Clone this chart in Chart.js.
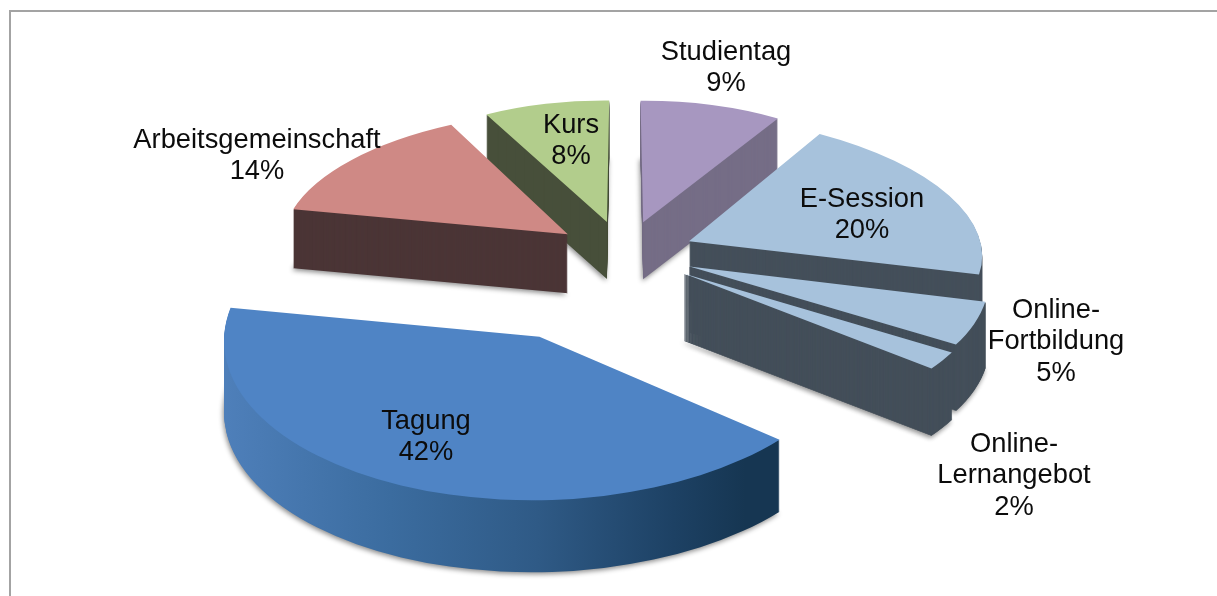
<!DOCTYPE html>
<html lang="de">
<head>
<meta charset="utf-8">
<style>html,body{margin:0;padding:0;background:#fff}canvas{display:block}</style>
<script src="https://cdn.jsdelivr.net/npm/chart.js@4"></script>
</head>
<body>
<canvas id="c" width="1217" height="596"></canvas>
<script>
// Data, clockwise from twelve o'clock
const categories = ['Studientag', 'E-Session', 'Online-\nFortbildung', 'Online-\nLernangebot', 'Tagung', 'Arbeitsgemeinschaft', 'Kurs'];
const shares = [9, 20, 5, 2, 42, 14, 8];

// Styles
const topColors = ['#a797c0', '#a7c2dc', '#a7c2dc', '#a7c2dc', '#4f84c5', '#cf8985', '#b2cd8c'];
const wallColors = ['#756d86', '#444f5a', '#444f5a', '#444f5a', null, '#4b3536', '#474f3a'];
const tagungWallStops = [[0, '#4f80bb'], [0.3, '#3b6c9f'], [0.55, '#2f5a86'], [0.78, '#1d4164'], [0.9, '#163652'], [1, '#163652']];

// Slice pull-out, as a fraction of the radius
const explode = [0.24, 0.24, 0.24, 0.25, 0.64, 0.24, 0.24];

// Camera model of the tilted pie
const view = { cx: 624, cy: 253.3, rx: 295, ry: 137, persp: 0.085, backNarrow: 0.05, depth: 63, edgeWeight: 20 };

// Label anchors (centre of the block's first line)
const labelAnchors = [[726, 52], [862, 199], [1056, 310], [1014, 444], [426, 421], [257, 140], [571, 125]];
const labelLine = 31.5;

function project(u, v) {
  const w = 1 / (1 - view.persp * v);
  const narrow = 1 + view.backNarrow * Math.min(v, 0);
  return { x: view.cx + view.rx * u * w * narrow, y: view.cy + view.ry * v * w, w };
}

// Best affine map (about the apex) of a slice onto its projected position
function sliceMatrix(start, end, e) {
  const mid = (start + end) / 2;
  const au = e * Math.cos(mid), av = e * Math.sin(mid);
  const apex = project(au, av);
  const rim = project(au + Math.cos(mid), av + Math.sin(mid));
  let suu = 0, suv = 0, svv = 0, xu = 0, xv = 0, yu = 0, yv = 0;
  const n = 24;
  for (let i = 0; i <= n; i++) {
    const t = start + (end - start) * i / n;
    const g = (i === 0 || i === n) ? view.edgeWeight : 1;
    const du = Math.cos(t), dv = Math.sin(t);
    const p = project(au + du, av + dv);
    const dx = p.x - apex.x, dy = p.y - apex.y;
    suu += g * du * du; suv += g * du * dv; svv += g * dv * dv;
    xu += g * dx * du; xv += g * dx * dv; yu += g * dy * du; yv += g * dy * dv;
  }
  const det = suu * svv - suv * suv;
  return {
    apex, rim,
    a: (xu * svv - xv * suv) / det,
    c: (xv * suu - xu * suv) / det,
    b: (yu * svv - yv * suv) / det,
    d: (yv * suu - yu * suv) / det
  };
}

const pie3d = {
  id: 'pie3d',
  beforeDatasetsDraw(chart) {
    const ctx = chart.ctx;
    const arcs = chart.getDatasetMeta(0).data;
    const items = arcs.map((el, i) => ({ el, i, m: sliceMatrix(el.startAngle, el.endAngle, explode[i]) }));
    items.sort((p, q) => p.m.apex.y - q.m.apex.y);
    items.forEach(({ el, i, m }) => {
      const r = el.outerRadius;
      const place = (dy) => {
        ctx.translate(m.apex.x, m.apex.y + dy);
        ctx.transform(m.a / r, m.b / r, m.c / r, m.d / r, 0, 0);
        ctx.translate(-el.x, -el.y);
      };
      const top = el.options.backgroundColor;
      let wall = wallColors[i];
      if (!wall) {
        wall = ctx.createLinearGradient(el.x - r * 1.02, 0, el.x + r * 0.85, 0);
        tagungWallStops.forEach(s => wall.addColorStop(s[0], s[1]));
      }
      const depth = Math.round(view.depth * m.rim.w);
      const thin = el.circumference < 0.4;
      el.options.backgroundColor = wall;
      if (thin) { el.options.borderWidth = 1; el.options.borderColor = wall; }
      for (let dy = depth; dy > 0; dy--) {
        ctx.save();
        if (dy === depth) {
          ctx.shadowColor = 'rgba(0,0,0,0.45)';
          ctx.shadowBlur = 5;
          ctx.shadowOffsetY = 2;
          ctx.shadowOffsetX = -1;
        }
        place(dy);
        el.draw(ctx);
        ctx.restore();
      }
      el.options.backgroundColor = top;
      el.options.borderWidth = 0;
      ctx.save();
      place(0);
      el.draw(ctx);
      ctx.restore();
    });
    return false;
  },
  afterDraw(chart) {
    const ctx = chart.ctx;
    // Frame of the source figure
    ctx.save();
    ctx.strokeStyle = '#a3a3a3';
    ctx.lineWidth = 2;
    ctx.beginPath();
    ctx.moveTo(1217, 11);
    ctx.lineTo(10, 11);
    ctx.lineTo(10, 596);
    ctx.stroke();
    // Data labels
    ctx.fillStyle = '#0c0c0c';
    ctx.font = '27.3px "Liberation Sans", Arial, sans-serif';
    ctx.textAlign = 'center';
    ctx.textBaseline = 'middle';
    categories.forEach((name, i) => {
      const lines = name.split('\n').concat(shares[i] + '%');
      lines.forEach((line, k) => ctx.fillText(line, labelAnchors[i][0], labelAnchors[i][1] + k * labelLine));
    });
    ctx.restore();
  }
};

new Chart(document.getElementById('c'), {
  type: 'pie',
  data: {
    labels: categories,
    datasets: [{ data: shares, backgroundColor: topColors, borderWidth: 0 }]
  },
  options: {
    responsive: false,
    animation: false,
    layout: { padding: 0 },
    plugins: { legend: { display: false }, tooltip: { enabled: false } }
  },
  plugins: [pie3d]
});
</script>
</body>
</html>
